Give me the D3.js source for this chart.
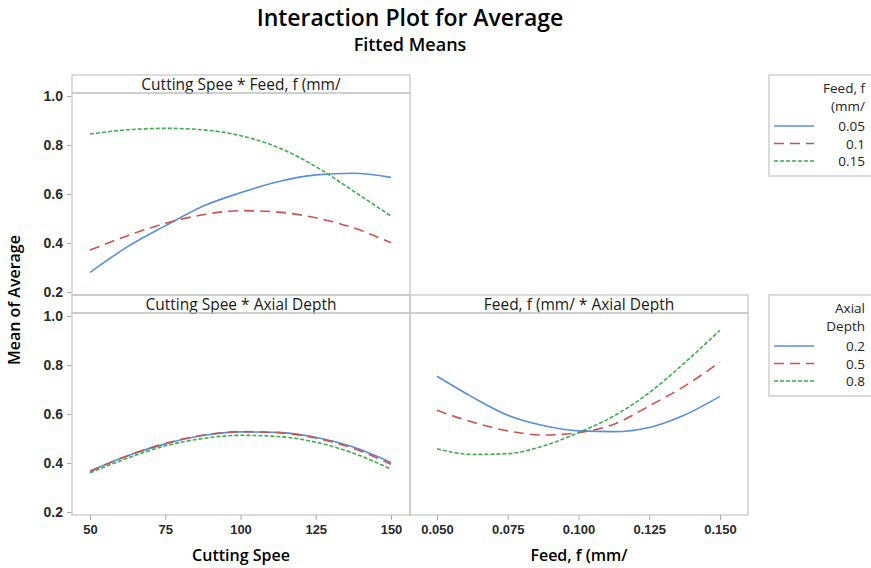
<!DOCTYPE html>
<html>
<head>
<meta charset="utf-8">
<script src="https://cdn.jsdelivr.net/npm/d3@7"></script>
<style>
    body { margin: 0; background: #fff; }
    svg { font-family: 'Open Sans', sans-serif; }
    .frame { fill: none; stroke: #c8c8c8; stroke-width: 1.3; }
    .tick text { font-size: 13px; fill: #2a2a2a; font-weight: 600; }
    .tick line { stroke: #aaa; }
    .stripText { font-size: 15.5px; fill: #1a1a1a; text-anchor: middle; }
    .legendText { font-size: 13.5px; fill: #222; text-anchor: end; }
    .curve { fill: none; stroke-width: 1.6; }
</style>
</head>
<body>
<svg id="mainFrame"></svg>
<script>
// x positions
const speedValues = [50, 62.5, 75, 87.5, 100, 112.5, 125, 137.5, 150]
const feedValues = [0.05, 0.0625, 0.075, 0.0875, 0.1, 0.1125, 0.125, 0.1375, 0.15]

const feedLevels = ['0.05', '0.1', '0.15']
const depthLevels = ['0.2', '0.5', '0.8']

// Cutting Spee * Feed
const speedFeed005 = [0.28, 0.385, 0.47, 0.55, 0.605, 0.65, 0.678, 0.685, 0.668]
const speedFeed010 = [0.371, 0.43, 0.48, 0.515, 0.532, 0.526, 0.503, 0.462, 0.401]
const speedFeed015 = [0.845, 0.862, 0.868, 0.862, 0.838, 0.79, 0.712, 0.612, 0.51]

// Cutting Spee * Axial Depth
const speedDepth02 = [0.367, 0.43, 0.478, 0.512, 0.527, 0.525, 0.505, 0.465, 0.402]
const speedDepth05 = [0.365, 0.43, 0.48, 0.513, 0.528, 0.524, 0.502, 0.46, 0.395]
const speedDepth08 = [0.36, 0.42, 0.47, 0.5, 0.513, 0.508, 0.485, 0.44, 0.375]

// Feed * Axial Depth
const feedDepth02 = [0.754, 0.669, 0.595, 0.553, 0.531, 0.528, 0.545, 0.596, 0.672]
const feedDepth05 = [0.615, 0.567, 0.531, 0.514, 0.524, 0.558, 0.633, 0.714, 0.812]
const feedDepth08 = [0.458, 0.435, 0.438, 0.469, 0.524, 0.592, 0.687, 0.809, 0.942]

const yTicks = [0.2, 0.4, 0.6, 0.8, 1.0]
const speedTicks = [50, 75, 100, 125, 150]
const feedTicks = [0.05, 0.075, 0.1, 0.125, 0.15]

const colors = ['#5a8fd6', '#c9534f', '#3fab4a']
const dashes = [null, '10,6', '4,2']

const width = 871, height = 568

const svg = d3.select('#mainFrame')
    .attr('width', width)
    .attr('height', height)

// panel layout
const left = 72
const panelW = 338
const stripH = 18
const plotH = 202
const topY = 75

const ySpan = [plotH - 3, 3]

svg.append('text')
    .attr('x', 410).attr('y', 26)
    .attr('text-anchor', 'middle')
    .style('font-size', '23px').style('font-weight', 600)
    .text('Interaction Plot for Average')

svg.append('text')
    .attr('x', 410).attr('y', 51)
    .attr('text-anchor', 'middle')
    .style('font-size', '18px').style('font-weight', 600)
    .text('Fitted Means')

const drawPanel = (col, row, title, xValues, xTicks, xFormat, xPad, series, showY, showX) => {
    const px = left + col * panelW
    const py = topY + row * (stripH + plotH)

    const g = svg.append('g')
        .attr('transform', `translate(${px},${py})`)

    g.append('rect').attr('class', 'frame')
        .attr('width', panelW).attr('height', stripH)
    g.append('text').attr('class', 'stripText')
        .attr('x', panelW / 2).attr('y', stripH - 3.5)
        .text(title)

    const plot = g.append('g').attr('transform', `translate(0,${stripH})`)

    const xScale = d3.scaleLinear()
        .domain(d3.extent(xTicks))
        .range([xPad[0], panelW - xPad[1]])

    const yScale = d3.scaleLinear()
        .domain([0.2, 1.0])
        .range(ySpan)

    if (showY) {
        plot.append('g')
            .call(d3.axisLeft(yScale).tickValues(yTicks).tickFormat(d3.format('.1f')).tickSize(5).tickPadding(4))
            .call(a => a.select('.domain').remove())
            .selectAll('text').style('font-size', '14px')
    }
    if (showX) {
        plot.append('g')
            .attr('transform', `translate(0,${plotH})`)
            .call(d3.axisBottom(xScale).tickValues(xTicks).tickFormat(xFormat).tickSize(5).tickPadding(5))
            .call(a => a.select('.domain').remove())
    }

    plot.append('rect').attr('class', 'frame')
        .attr('width', panelW).attr('height', plotH)

    const line = d3.line()
        .x((d, i) => xScale(xValues[i]))
        .y(d => yScale(d))
        .curve(d3.curveMonotoneX)

    plot.selectAll('path.curve')
        .data(series)
        .join('path')
        .attr('class', 'curve')
        .attr('d', d => line(d))
        .attr('stroke', (d, i) => colors[i])
        .attr('stroke-dasharray', (d, i) => dashes[i])
}

drawPanel(0, 0, 'Cutting Spee * Feed, f (mm/', speedValues, speedTicks, d3.format('d'), [18, 19],
    [speedFeed005, speedFeed010, speedFeed015], true, false)
drawPanel(0, 1, 'Cutting Spee * Axial Depth', speedValues, speedTicks, d3.format('d'), [18, 19],
    [speedDepth02, speedDepth05, speedDepth08], true, true)
drawPanel(1, 1, 'Feed, f (mm/ * Axial Depth', feedValues, feedTicks, d3.format('.3f'), [27, 28],
    [feedDepth02, feedDepth05, feedDepth08], false, true)

// axis titles
svg.append('text')
    .attr('x', left + panelW / 2).attr('y', 561)
    .attr('text-anchor', 'middle')
    .style('font-size', '16px').style('font-weight', 600)
    .text('Cutting Spee')

svg.append('text')
    .attr('x', left + panelW * 1.5).attr('y', 561)
    .attr('text-anchor', 'middle')
    .style('font-size', '16px').style('font-weight', 600)
    .text('Feed, f (mm/')

svg.append('text')
    .attr('transform', `translate(20,${topY + stripH + plotH + 5})rotate(-90)`)
    .attr('text-anchor', 'middle')
    .style('font-size', '16px').style('font-weight', 600)
    .text('Mean of Average')

// legends
const drawLegend = (y, titleLines, levels) => {
    const g = svg.append('g').attr('transform', `translate(769,${y})`)
    g.append('rect').attr('class', 'frame')
        .attr('width', 130).attr('height', 101)
    titleLines.forEach((t, i) => {
        g.append('text').attr('class', 'legendText')
            .attr('x', 96).attr('y', 18 + i * 17.5)
            .text(t)
    })
    levels.forEach((lv, i) => {
        const ly = 56 + i * 17.5
        g.append('line')
            .attr('x1', 5).attr('x2', 45)
            .attr('y1', ly - 5).attr('y2', ly - 5)
            .attr('stroke', colors[i])
            .attr('stroke-width', 1.6)
            .attr('stroke-dasharray', dashes[i])
        g.append('text').attr('class', 'legendText')
            .attr('x', 96).attr('y', ly)
            .text(lv)
    })
}

drawLegend(topY, ['Feed, f', '(mm/'], feedLevels)
drawLegend(topY + stripH + plotH, ['Axial', 'Depth'], depthLevels)
</script>
</body>
</html>
